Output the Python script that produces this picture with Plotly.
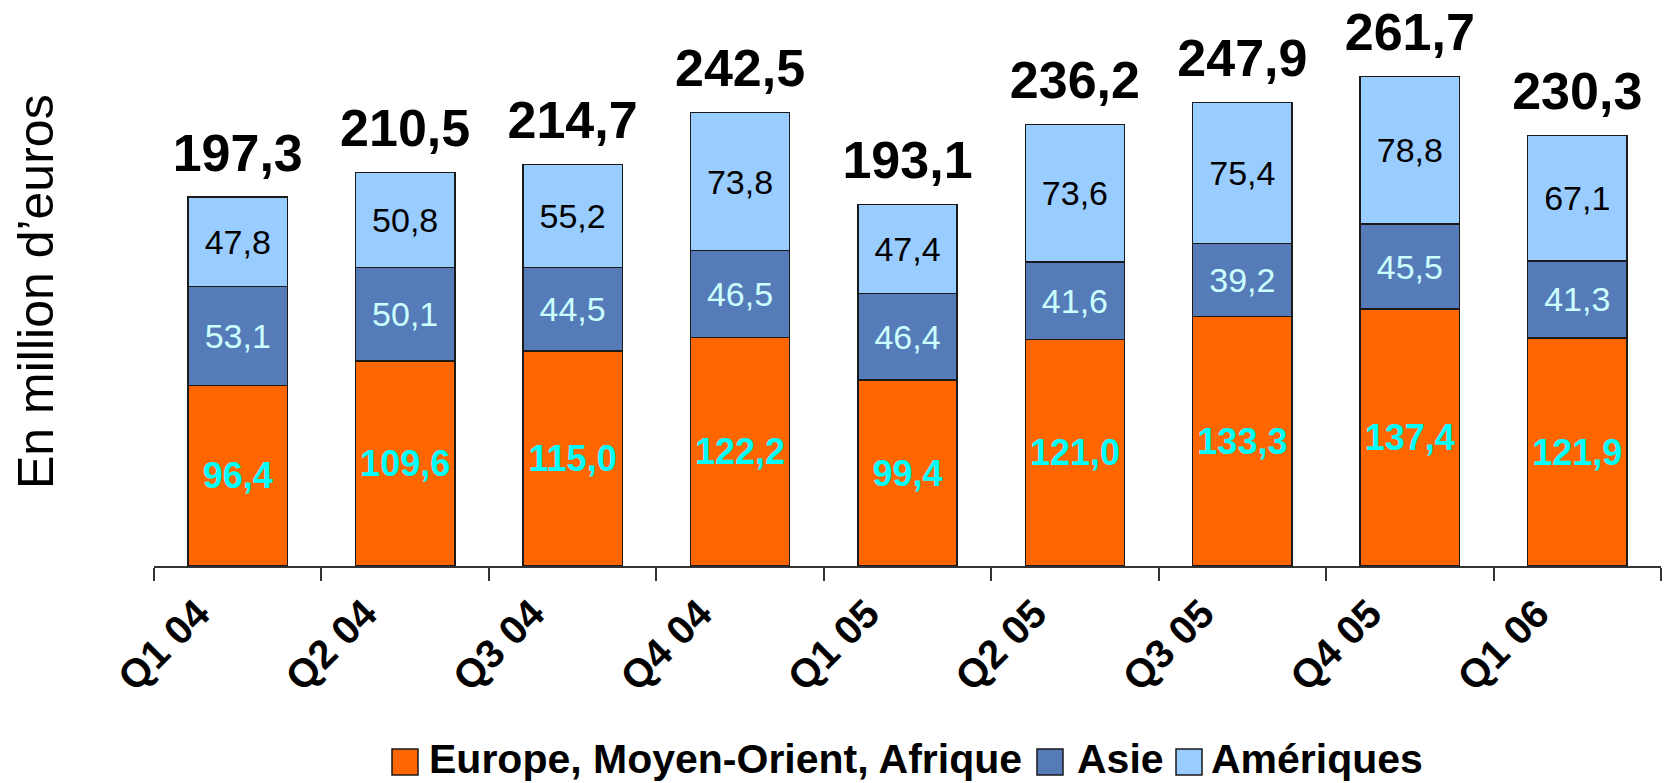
import plotly.graph_objects as go

trimestres = ["Q1 04", "Q2 04", "Q3 04", "Q4 04", "Q1 05", "Q2 05", "Q3 05", "Q4 05", "Q1 06"]
europe = [96.4, 109.6, 115.0, 122.2, 99.4, 121.0, 133.3, 137.4, 121.9]
asie = [53.1, 50.1, 44.5, 46.5, 46.4, 41.6, 39.2, 45.5, 41.3]
ameriques = [47.8, 50.8, 55.2, 73.8, 47.4, 73.6, 75.4, 78.8, 67.1]
totaux = [197.3, 210.5, 214.7, 242.5, 193.1, 236.2, 247.9, 261.7, 230.3]

noms = ["Europe, Moyen-Orient, Afrique", "Asie", "Amériques"]
couleurs = ["#FF6600", "#557CB8", "#99CCFF"]

FONT = "Arial, Liberation Sans, sans-serif"
W, H = 1666, 783
ML, MR, MT, MB = 154, 5, 5, 217
PW, PH = W - ML - MR, H - MT - MB


def fr(v):
    return f"{v:.1f}".replace(".", ",")


def px_x(p):
    return (p - ML) / PW


def px_y(p):
    return (H - MB - p) / PH


fig = go.Figure()

# segments empiles
series = [europe, asie, ameriques]
styles_texte = [
    dict(size=36, color="#00FFFF", family=FONT, weight="bold"),
    dict(size=34, color="#CCFFFF", family=FONT),
    dict(size=34, color="#000000", family=FONT),
]
for nom, vals, coul, tf in zip(noms, series, couleurs, styles_texte):
    fig.add_trace(go.Bar(
        x=trimestres, y=vals, name=nom,
        marker=dict(color=coul, line=dict(color="#1a1a1a", width=1.5)),
        text=[fr(v) for v in vals], textposition="inside",
        insidetextanchor="middle", textangle=0,
        textfont=tf, showlegend=False, hoverinfo="skip",
    ))

# totaux au dessus des barres
fig.add_trace(go.Scatter(
    x=trimestres, y=totaux, mode="markers+text",
    text=[fr(v) for v in totaux], textposition="top center",
    marker=dict(size=20, opacity=0),
    textfont=dict(size=52, color="#000000", family=FONT, weight="bold"),
    showlegend=False, hoverinfo="skip", cliponaxis=False,
))

fig.update_layout(
    width=W, height=H,
    margin=dict(l=ML, r=MR, t=MT, b=MB),
    barmode="stack", bargap=0.407,
    plot_bgcolor="white", paper_bgcolor="white",
    font=dict(family=FONT),
)

fig.update_xaxes(
    type="category", range=[-0.5, 8.5],
    showline=True, linecolor="#333333", linewidth=2,
    ticks="outside", tickson="boundaries", ticklen=13, tickwidth=1.5, tickcolor="#333333",
    tickangle=-45, tickfont=dict(size=40, color="#000000", family=FONT, weight="bold"),
    ticklabelshift=-40, ticklabelstandoff=6,
    showgrid=False, zeroline=False,
)
fig.update_yaxes(
    range=[0, 300], visible=False,
)

# titre de l'axe vertical
fig.add_annotation(
    text="En million d\u2019euros", textangle=-90,
    xref="paper", yref="paper", x=px_x(36), y=px_y(292),
    xanchor="center", yanchor="middle", showarrow=False,
    font=dict(size=50, color="#000000", family=FONT),
)

# legende
legende = [(392, 427), (1037, 1075), (1176, 1209)]
for nom, coul, (sx, tx) in zip(noms, couleurs, legende):
    fig.add_shape(
        type="rect", xref="paper", yref="paper",
        x0=px_x(sx), x1=px_x(sx + 26), y0=px_y(775), y1=px_y(749),
        fillcolor=coul, line=dict(color="#1a1a1a", width=1.5),
    )
    fig.add_annotation(
        text=nom, xref="paper", yref="paper", x=px_x(tx), y=px_y(759),
        xanchor="left", yanchor="middle", showarrow=False,
        font=dict(size=41, color="#000000", family=FONT, weight="bold"),
    )

fig.write_html("out.html", config={"displayModeBar": False},
               post_script="document.body.style.margin='0';")
